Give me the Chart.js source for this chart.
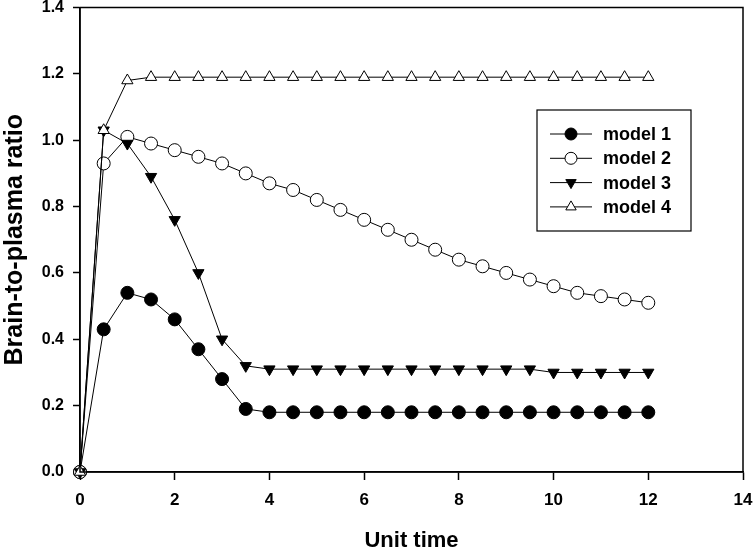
<!DOCTYPE html>
<html>
<head>
<meta charset="utf-8">
<script src="https://cdn.jsdelivr.net/npm/chart.js@4"></script>
<style>
  html, body { margin: 0; padding: 0; background: #fff; }
  #wrap { width: 754px; height: 549px; }
</style>
</head>
<body>
<div id="wrap"><canvas id="ratioChart" width="754" height="549"></canvas></div>
<script>
// Time points (unit time)
const times = [0, 0.5, 1, 1.5, 2, 2.5, 3, 3.5, 4, 4.5, 5, 5.5, 6, 6.5, 7, 7.5, 8, 8.5, 9, 9.5, 10, 10.5, 11, 11.5, 12];

// Brain-to-plasma ratio per model
const model1 = [0, 0.43, 0.54, 0.52, 0.46, 0.37, 0.28, 0.19, 0.18, 0.18, 0.18, 0.18, 0.18, 0.18, 0.18, 0.18, 0.18, 0.18, 0.18, 0.18, 0.18, 0.18, 0.18, 0.18, 0.18];
const model2 = [0, 0.93, 1.01, 0.99, 0.97, 0.95, 0.93, 0.90, 0.87, 0.85, 0.82, 0.79, 0.76, 0.73, 0.70, 0.67, 0.64, 0.62, 0.60, 0.58, 0.56, 0.54, 0.53, 0.52, 0.51];
const model3 = [0, 1.03, 0.99, 0.89, 0.76, 0.60, 0.40, 0.32, 0.31, 0.31, 0.31, 0.31, 0.31, 0.31, 0.31, 0.31, 0.31, 0.31, 0.31, 0.31, 0.30, 0.30, 0.30, 0.30, 0.30];
const model4 = [0, 1.03, 1.18, 1.19, 1.19, 1.19, 1.19, 1.19, 1.19, 1.19, 1.19, 1.19, 1.19, 1.19, 1.19, 1.19, 1.19, 1.19, 1.19, 1.19, 1.19, 1.19, 1.19, 1.19, 1.19];

const seriesNames = ['model 1', 'model 2', 'model 3', 'model 4'];
const xTicks = [0, 2, 4, 6, 8, 10, 12, 14];
const yTicks = [0, 0.2, 0.4, 0.6, 0.8, 1.0, 1.2, 1.4];

const toPoints = vals => vals.map((v, i) => ({ x: times[i], y: v }));

const markerStyles = [
    { pointStyle: 'circle', fill: '#000', rotation: 0 },
    { pointStyle: 'circle', fill: '#fff', rotation: 0 },
    { pointStyle: 'triangle', fill: '#000', rotation: 180 },
    { pointStyle: 'triangle', fill: '#fff', rotation: 0 }
];

const allValues = [model1, model2, model3, model4];
const FONT = '"Liberation Sans", Arial, sans-serif';

// Box around the plot area (top + right edges)
const frame = {
    id: 'frame',
    afterDraw(chart) {
        const { ctx, chartArea: a } = chart;
        ctx.save();
        ctx.strokeStyle = '#000';
        ctx.lineWidth = 1.5;
        ctx.strokeRect(a.left, a.top, a.right - a.left, a.bottom - a.top);
        ctx.restore();
    }
};

// Legend drawn inside the plot area
const insideLegend = {
    id: 'insideLegend',
    afterDraw(chart) {
        const { ctx } = chart;
        const bx = 537, by = 110, bw = 154, bh = 121;
        ctx.save();
        ctx.fillStyle = '#fff';
        ctx.fillRect(bx, by, bw, bh);
        ctx.strokeStyle = '#000';
        ctx.lineWidth = 1.2;
        ctx.strokeRect(bx, by, bw, bh);
        ctx.font = 'bold 18px ' + FONT;
        ctx.textBaseline = 'middle';
        seriesNames.forEach((name, i) => {
            const y = 134 + i * 24.3;
            ctx.strokeStyle = '#000';
            ctx.lineWidth = 1;
            ctx.beginPath();
            ctx.moveTo(550, y);
            ctx.lineTo(592, y);
            ctx.stroke();
            const m = markerStyles[i];
            ctx.fillStyle = m.fill;
            Chart.helpers.drawPoint(ctx, {
                pointStyle: m.pointStyle, radius: 6, borderWidth: 1, rotation: m.rotation
            }, 571, y);
            ctx.fillStyle = '#000';
            ctx.fillText(name, 603, y + 1);
        });
        ctx.restore();
    }
};

const ctxRatio = document.getElementById('ratioChart').getContext('2d');
const ratioChart = new Chart(ctxRatio, {
    type: 'line',
    data: {
        datasets: allValues.map((vals, i) => ({
            label: seriesNames[i],
            data: toPoints(vals),
            order: 3 - i,
            borderColor: '#000',
            borderWidth: 1,
            backgroundColor: markerStyles[i].fill,
            pointStyle: markerStyles[i].pointStyle,
            pointRotation: markerStyles[i].rotation,
            pointRadius: 6.5,
            pointBorderWidth: 1,
            pointBorderColor: '#000',
            pointBackgroundColor: markerStyles[i].fill,
            tension: 0,
            clip: false
        }))
    },
    options: {
        responsive: false,
        animation: false,
        layout: { padding: { top: 7, right: 11, left: 0, bottom: 0 } },
        plugins: {
            legend: { display: false },
            tooltip: { enabled: false }
        },
        scales: {
            x: {
                type: 'linear',
                min: 0,
                max: 14,
                afterBuildTicks: axis => { axis.ticks = xTicks.map(v => ({ value: v })); },
                afterFit: axis => {
                    axis.height = 77;
                    axis.paddingLeft = 0;
                    axis.paddingRight = 0;
                },
                grid: { drawOnChartArea: false, drawTicks: true, tickLength: 8, tickColor: '#000', tickWidth: 1.5 },
                border: { display: true, color: '#000', width: 1.5 },
                ticks: {
                    color: '#000',
                    padding: 10,
                    maxRotation: 0,
                    font: { family: FONT, size: 17, weight: 'bold' }
                },
                title: {
                    display: true,
                    text: 'Unit time',
                    color: '#000',
                    padding: { top: 4, bottom: -5 },
                    font: { family: FONT, size: 22, weight: 'bold' }
                }
            },
            y: {
                min: 0,
                max: 1.4,
                afterBuildTicks: axis => { axis.ticks = yTicks.map(v => ({ value: v })); },
                afterFit: axis => {
                    axis.width = 80;
                    axis.paddingTop = 0;
                    axis.paddingBottom = 0;
                },
                grid: { drawOnChartArea: false, drawTicks: true, tickLength: 7, tickColor: '#000', tickWidth: 1.5 },
                border: { display: true, color: '#000', width: 1.5 },
                ticks: {
                    color: '#000',
                    padding: 9,
                    callback: v => v.toFixed(1),
                    font: { family: FONT, size: 16, weight: 'bold' }
                },
                title: {
                    display: true,
                    text: 'Brain-to-plasma ratio',
                    color: '#000',
                    padding: { top: 0, bottom: 4 },
                    font: { family: FONT, size: 25, weight: 'bold' }
                }
            }
        }
    },
    plugins: [frame, insideLegend]
});
</script>
</body>
</html>
